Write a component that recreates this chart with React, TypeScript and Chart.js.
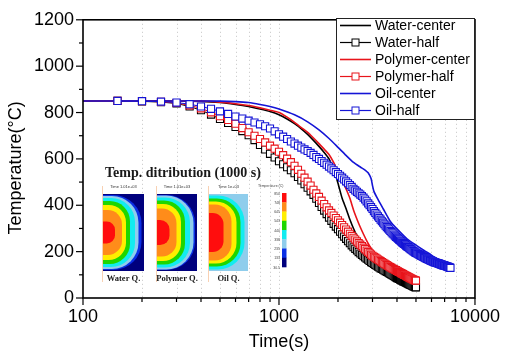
import React, { useEffect, useRef } from "react";
import { Chart, registerables } from "chart.js";

Chart.register(...registerables);

// ---------- series ----------
const seriesNames = ["Water-center", "Water-half", "Polymer-center", "Polymer-half", "Oil-center", "Oil-half"];
const seriesColors = ["#000000", "#000000", "#e8141b", "#e8141b", "#1414d6", "#1414d6"];

// ---------- axis ticks / titles ----------
const xMajorTicks = [100, 1000, 10000];
const xMinorTicks = [200, 300, 400, 500, 600, 700, 800, 900, 2000, 3000, 4000, 5000, 6000, 7000, 8000, 9000];
const yMajorTicks = [0, 200, 400, 600, 800, 1000, 1200];
const yMinorTicks = [100, 300, 500, 700, 900, 1100];
const xTitle = "Time(s)";
const yTitle = "Temperature(°C)";

// ---------- center curves (time s, temperature °C) ----------
const waterCenterTime = [100, 200, 300, 400, 500, 600, 700, 800, 900, 1000, 1100, 1200, 1300, 1400, 1500, 1600, 1700, 1800, 1900, 2000, 2100, 2200, 2300, 2400, 2500, 2600, 2800, 3000, 3200, 3500, 4000, 4500, 5000];
const waterCenterTemp = [850, 850, 850, 848, 843, 835, 826, 815, 804, 790, 772, 752, 730, 706, 680, 654, 628, 600, 555, 495, 430, 385, 339, 300, 268, 243, 200, 170, 150, 122, 90, 68, 50];

const polymerCenterTime = [100, 200, 300, 400, 500, 600, 700, 800, 900, 1000, 1100, 1200, 1300, 1400, 1500, 1600, 1700, 1800, 1900, 2000, 2100, 2200, 2300, 2400, 2500, 2600, 2700, 2800, 2900, 3000, 3200, 3500, 4000, 4500, 5000];
const polymerCenterTemp = [850, 850, 850, 849, 845, 838, 830, 820, 810, 800, 780, 758, 735, 714, 690, 666, 642, 619, 585, 543, 507, 470, 430, 380, 340, 305, 275, 248, 225, 206, 180, 150, 117, 92, 72];

const oilCenterTime = [100, 300, 500, 600, 700, 800, 900, 1000, 1200, 1400, 1600, 1800, 2000, 2200, 2400, 2600, 2750, 2850, 2950, 3000, 3050, 3200, 3400, 3700, 4000, 4500, 5000, 5500, 6000, 6600, 7000, 7600];
const oilCenterTemp = [850, 850, 849, 847, 843, 835, 826, 815, 790, 760, 725, 688, 650, 615, 585, 565, 552, 540, 515, 485, 460, 425, 385, 330, 298, 255, 228, 205, 185, 160, 148, 131];

// ---------- half-radius curves (marker every sample) ----------
const halfTime = [
  150, 200, 250, 300, 350, 400, 450, 500, 550, 600,
  650, 700, 750, 800, 850, 900, 950, 1000, 1050, 1100,
  1150, 1200, 1250, 1300, 1350, 1400, 1450, 1500, 1550, 1600,
  1650, 1700, 1750, 1800, 1850, 1900, 1950, 2000, 2050, 2100,
  2150, 2200, 2250, 2300, 2350, 2400, 2450, 2500, 2550, 2600,
  2650, 2700, 2750, 2800, 2850, 2900, 2950, 3000, 3050, 3100,
  3150, 3200, 3250, 3300, 3350, 3400, 3450, 3500, 3550, 3600,
  3650, 3700, 3750, 3800, 3850, 3900, 3950, 4000, 4050, 4100,
  4150, 4200, 4250, 4300, 4350, 4400, 4450, 4500, 4550, 4600,
  4650, 4700, 4750, 4800, 4850, 4900, 4950, 5000, 5050, 5100,
  5150, 5200, 5250, 5300, 5350, 5400, 5450, 5500, 5550, 5600,
  5650, 5700, 5750, 5800, 5850, 5900, 5950, 6000, 6050, 6100,
  6150, 6200, 6250, 6300, 6350, 6400, 6450, 6500, 6550, 6600,
  6650, 6700, 6750, 6800, 6850, 6900, 6950, 7000, 7050, 7100,
  7150, 7200, 7250, 7300, 7350, 7400, 7450, 7500,
];

const waterHalfTemp = [
  850, 848, 845, 839, 826, 810, 791, 772, 755, 738,
  720, 702, 681, 660, 641, 622, 606, 590, 577, 564,
  551, 538, 522, 507, 491, 476, 460, 445, 428, 410,
  393, 377, 362, 347, 333, 320, 308, 297, 286, 275,
  265, 255, 245, 236, 227, 219, 212, 205, 198, 192,
  186, 180, 175, 170, 165, 160, 155, 151, 147, 143,
  139, 135, 132, 128, 125, 122, 119, 116, 113, 110,
  107, 104, 101, 98, 95, 92, 89, 86, 84, 82,
  79, 77, 75, 72, 70, 68, 66, 64, 62, 60,
  58, 56, 54, 52, 50, 49, 47, 46,
];

const polymerHalfTemp = [
  850, 849, 846, 841, 831, 818, 801, 784, 768, 752,
  733, 715, 700, 686, 671, 657, 644, 631, 616, 601,
  586, 570, 553, 536, 519, 502, 485, 467, 451, 436,
  420, 405, 391, 378, 367, 356, 345, 335, 325, 315,
  305, 295, 286, 277, 268, 260, 252, 244, 237, 230,
  224, 217, 211, 205, 199, 193, 187, 182, 178, 174,
  170, 166, 163, 159, 155, 152, 148, 145, 142, 139,
  136, 133, 130, 127, 125, 122, 120, 117, 115, 112,
  110, 107, 105, 103, 100, 98, 96, 93, 91, 89,
  87, 85, 83, 81, 79, 77, 76, 75,
];

const oilHalfTemp = [
  850, 849, 847, 843, 836, 826, 816, 805, 794, 783,
  774, 765, 757, 749, 741, 731, 719, 706, 696, 686,
  675, 666, 657, 649, 641, 634, 626, 617, 608, 600,
  591, 583, 575, 567, 559, 551, 543, 535, 527, 519,
  511, 503, 495, 487, 479, 471, 464, 458, 452, 446,
  440, 433, 425, 417, 408, 400, 392, 384, 375, 367,
  360, 352, 345, 338, 331, 325, 318, 312, 306, 300,
  295, 289, 284, 279, 274, 269, 264, 260, 256, 252,
  248, 244, 240, 237, 233, 230, 226, 223, 220, 217,
  214, 211, 208, 205, 202, 200, 197, 195, 193, 191,
  189, 187, 185, 183, 181, 179, 177, 176, 174, 172,
  171, 169, 167, 166, 164, 163, 161, 160, 159, 158,
  156, 155, 154, 153, 152, 151, 150, 149, 148, 147,
  146, 145, 144, 143, 142, 141, 141, 140, 139, 138,
  137, 136, 135, 134, 133, 132, 131, 130,
];

// ---------- inset (temperature contour picture) ----------
const insetTitle = "Temp. ditribution (1000 s)";
const panelNames = ["Water Q.", "Polymer Q.", "Oil Q."];
const panelTimes = ["Time 1.01e+03", "Time 1.01e+03", "Time 1e+03"];
const colorbarLabels = ["850", "748", "645", "543", "440", "338", "235", "133", "30.5"];

const CLR = {
  red: "#ff0d0d",
  orange: "#ff8c1a",
  yellow: "#ffee00",
  green: "#1fd600",
  cyan: "#12ecf0",
  lblue: "#8fcdec",
  blue: "#0a2fe6",
  navy: "#00007d",
};
const colorbarColors = [CLR.red, CLR.orange, CLR.yellow, CLR.green, CLR.cyan, CLR.lblue, CLR.blue, CLR.navy];

const panelGeom = [
  {
    x: 103, y: 194, w: 41, h: 77, bg: CLR.navy,
    bands: [
      [CLR.blue, 38.5, 37.5], [CLR.lblue, 35.5, 36.5], [CLR.cyan, 32, 34.5], [CLR.green, 27, 31.5],
      [CLR.yellow, 23, 27.5], [CLR.orange, 19, 22.5], [CLR.red, 12, 11],
    ],
  },
  {
    x: 157, y: 194, w: 40, h: 77, bg: CLR.navy,
    bands: [
      [CLR.blue, 38, 37.5], [CLR.lblue, 36.5, 37], [CLR.cyan, 33, 35], [CLR.green, 28, 32],
      [CLR.yellow, 24, 28.5], [CLR.orange, 19.5, 24], [CLR.red, 12.5, 12.5],
    ],
  },
  {
    x: 209, y: 194, w: 39, h: 77, bg: CLR.lblue,
    bands: [
      [CLR.cyan, 35.5, 37], [CLR.green, 31.5, 34], [CLR.yellow, 27.5, 31], [CLR.orange, 22.5, 28], [CLR.red, 14.5, 19.5],
    ],
  },
];

function dShape(ctx: CanvasRenderingContext2D, x0: number, cy: number, rx: number, hy: number) {
  const r = Math.min(rx, hy) * 0.75;
  ctx.beginPath();
  ctx.moveTo(x0 - 1, cy - hy);
  ctx.lineTo(x0 + rx - r, cy - hy);
  ctx.arcTo(x0 + rx, cy - hy, x0 + rx, cy - hy + r, r);
  ctx.lineTo(x0 + rx, cy + hy - r);
  ctx.arcTo(x0 + rx, cy + hy, x0 + rx - r, cy + hy, r);
  ctx.lineTo(x0 - 1, cy + hy);
  ctx.closePath();
  ctx.fill();
}

const insetPlugin = {
  id: "insetPicture",
  afterDatasetsDraw(chart: any) {
    const ctx: CanvasRenderingContext2D = chart.ctx;
    ctx.save();
    ctx.fillStyle = "#1a1a1a";
    ctx.font = "bold 14px 'Liberation Serif', 'Times New Roman', serif";
    ctx.textAlign = "left";
    ctx.textBaseline = "alphabetic";
    ctx.fillText(insetTitle, 105, 177);

    panelGeom.forEach((p, i) => {
      ctx.strokeStyle = "rgba(240,150,80,0.55)";
      ctx.lineWidth = 0.8;
      ctx.beginPath();
      ctx.moveTo(p.x - 0.5, p.y - 8);
      ctx.lineTo(p.x - 0.5, p.y + p.h + 11);
      ctx.stroke();

      ctx.save();
      ctx.beginPath();
      ctx.rect(p.x, p.y, p.w, p.h);
      ctx.clip();
      ctx.fillStyle = p.bg;
      ctx.fillRect(p.x, p.y, p.w, p.h);
      const cy = p.y + p.h / 2;
      p.bands.forEach((b: any) => {
        ctx.fillStyle = b[0];
        dShape(ctx, p.x, cy, b[1], b[2]);
      });
      ctx.restore();

      ctx.fillStyle = "#333";
      ctx.font = "4px 'Liberation Sans', Arial, sans-serif";
      ctx.textAlign = "center";
      ctx.fillText(panelTimes[i], p.x + p.w / 2, p.y - 6);

      ctx.fillStyle = "#1a1a1a";
      ctx.font = "bold 8.5px 'Liberation Serif', 'Times New Roman', serif";
      ctx.fillText(panelNames[i], p.x + p.w / 2, p.y + p.h + 10);
    });

    const bx = 282, by = 193, bw = 4.5, bh = 74;
    const seg = bh / colorbarColors.length;
    colorbarColors.forEach((c, i) => {
      ctx.fillStyle = c;
      ctx.fillRect(bx, by + i * seg, bw, seg + 0.3);
    });
    ctx.fillStyle = "#444";
    ctx.font = "3.5px 'Liberation Sans', Arial, sans-serif";
    ctx.textAlign = "left";
    ctx.fillText("Temperature (C)", 258, 187);
    ctx.textAlign = "right";
    colorbarLabels.forEach((l, i) => {
      ctx.fillText(l, 280, by + 1.5 + (i * bh) / (colorbarLabels.length - 1));
    });
    ctx.restore();
  },
};

const framePlugin = {
  id: "frameAndTicks",
  beforeDatasetsDraw(chart: any) {
    const { ctx, chartArea } = chart;
    const xs = chart.scales.x;
    ctx.save();
    ctx.strokeStyle = "#c4c4c4";
    ctx.lineWidth = 1;
    ctx.setLineDash([1, 3]);
    [...xMinorTicks, 1000].forEach((v) => {
      const px = Math.round(xs.getPixelForValue(v)) + 0.5;
      ctx.beginPath();
      ctx.moveTo(px, chartArea.top);
      ctx.lineTo(px, chartArea.bottom);
      ctx.stroke();
    });
    ctx.restore();
  },
  afterDraw(chart: any) {
    const { ctx, chartArea } = chart;
    const xs = chart.scales.x;
    const ys = chart.scales.y;
    ctx.save();
    ctx.strokeStyle = "#000";
    ctx.lineWidth = 1.6;
    ctx.strokeRect(chartArea.left, chartArea.top, chartArea.right - chartArea.left, chartArea.bottom - chartArea.top);
    ctx.lineWidth = 1.2;
    const tick = (x1: number, y1: number, x2: number, y2: number) => {
      ctx.beginPath();
      ctx.moveTo(x1, y1);
      ctx.lineTo(x2, y2);
      ctx.stroke();
    };
    xMajorTicks.forEach((v) => {
      const px = xs.getPixelForValue(v);
      tick(px, chartArea.bottom, px, chartArea.bottom + 7);
    });
    xMinorTicks.forEach((v) => {
      const px = xs.getPixelForValue(v);
      tick(px, chartArea.bottom, px, chartArea.bottom + 4);
    });
    yMajorTicks.forEach((v) => {
      const py = ys.getPixelForValue(v);
      tick(chartArea.left - 7, py, chartArea.left, py);
    });
    yMinorTicks.forEach((v) => {
      const py = ys.getPixelForValue(v);
      tick(chartArea.left - 4, py, chartArea.left, py);
    });
    // y axis title (sits a little below the plot's centre, as in the reference)
    ctx.fillStyle = "#000";
    ctx.font = "18px 'Liberation Sans', Arial, sans-serif";
    ctx.textAlign = "center";
    ctx.textBaseline = "middle";
    ctx.translate(16, (chartArea.top + chartArea.bottom) / 2 + 9);
    ctx.rotate(-Math.PI / 2);
    ctx.fillText(yTitle, 0, 0);
    ctx.restore();
  },
};

const legendPlugin = {
  id: "boxLegend",
  afterDraw(chart: any) {
    const ctx: CanvasRenderingContext2D = chart.ctx;
    const bx = 336, by = 18, bw = 138, bh = 101;
    ctx.save();
    ctx.fillStyle = "#fff";
    ctx.fillRect(bx, by, bw, bh);
    ctx.strokeStyle = "#222";
    ctx.lineWidth = 1;
    ctx.strokeRect(bx + 0.5, by + 0.5, bw, bh);
    seriesNames.forEach((name, i) => {
      const y = 25.5 + i * 17;
      const half = i % 2 === 1;
      ctx.strokeStyle = seriesColors[i];
      ctx.lineWidth = half ? 1.2 : 1.6;
      ctx.beginPath();
      ctx.moveTo(340, y);
      ctx.lineTo(371, y);
      ctx.stroke();
      if (half) {
        ctx.fillStyle = "#fff";
        ctx.lineWidth = 1;
        ctx.fillRect(352, y - 3.5, 7, 7);
        ctx.strokeRect(352, y - 3.5, 7, 7);
      }
      ctx.fillStyle = "#000";
      ctx.font = "14px 'Liberation Sans', Arial, sans-serif";
      ctx.textAlign = "left";
      ctx.textBaseline = "middle";
      ctx.fillText(name, 375, y + 0.5);
    });
    ctx.restore();
  },
};

export default function App() {
  const ref = useRef<HTMLCanvasElement>(null);

  useEffect(() => {
    document.body.style.margin = "0";
    const canvas = ref.current;
    if (!canvas) return;
    Chart.defaults.font.family = "'Liberation Sans', Arial, sans-serif";
    Chart.defaults.color = "#000";

    const pts = (ts: number[], vs: number[]) => vs.map((v, i) => ({ x: ts[i], y: v }));
    const centerDs = (i: number, ts: number[], vs: number[]) => ({
      label: seriesNames[i],
      data: pts(ts, vs),
      borderColor: seriesColors[i],
      backgroundColor: seriesColors[i],
      borderWidth: 1.6,
      pointRadius: 0,
      tension: 0.2,
      order: 6 - i,
    });
    const halfDs = (i: number, vs: number[]) => ({
      label: seriesNames[i],
      data: pts(halfTime, vs),
      borderColor: seriesColors[i],
      backgroundColor: "#ffffff",
      borderWidth: 1,
      pointStyle: "rect",
      pointRadius: 5,
      pointBorderWidth: 1.1,
      pointBackgroundColor: "#ffffff",
      pointBorderColor: seriesColors[i],
      order: 6 - i,
    });

    const chart = new Chart(canvas, {
      type: "line",
      data: {
        datasets: [
          centerDs(0, waterCenterTime, waterCenterTemp),
          halfDs(1, waterHalfTemp),
          centerDs(2, polymerCenterTime, polymerCenterTemp),
          halfDs(3, polymerHalfTemp),
          centerDs(4, oilCenterTime, oilCenterTemp),
          halfDs(5, oilHalfTemp),
        ] as any,
      },
      options: {
        animation: false,
        responsive: false,
        devicePixelRatio: 1,
        layout: { padding: { top: 11, right: 26, left: 0, bottom: 0 } },
        plugins: { legend: { display: false }, tooltip: { enabled: false } },
        scales: {
          x: {
            type: "logarithmic",
            min: 100,
            max: 10000,
            position: "bottom",
            afterFit: (s: any) => {
              s.height = 58;
            },
            afterBuildTicks: (s: any) => {
              s.ticks = xMajorTicks.map((v) => ({ value: v }));
            },
            grid: { display: false, drawTicks: false },
            border: { display: false },
            ticks: {
              autoSkip: false,
              maxRotation: 0,
              padding: 8,
              color: "#000",
              font: { size: 18 },
              callback: (v: any) => String(v),
            },
            title: {
              display: true,
              text: xTitle,
              color: "#000",
              font: { size: 18 },
              padding: { top: 0, bottom: 3 },
            },
          },
          y: {
            type: "linear",
            min: 0,
            max: 1200,
            afterFit: (s: any) => {
              s.width = 83;
            },
            afterBuildTicks: (s: any) => {
              s.ticks = yMajorTicks.map((v) => ({ value: v }));
            },
            grid: { display: false, drawTicks: false },
            border: { display: false },
            ticks: { padding: 9, color: "#000", font: { size: 18 }, callback: (v: any) => String(v) },
            title: { display: false },
          },
        },
      } as any,
      plugins: [framePlugin, insetPlugin, legendPlugin],
    });

    return () => chart.destroy();
  }, []);

  return <canvas ref={ref} width={508} height={356} style={{ display: "block", width: 508, height: 356 }} />;
}
